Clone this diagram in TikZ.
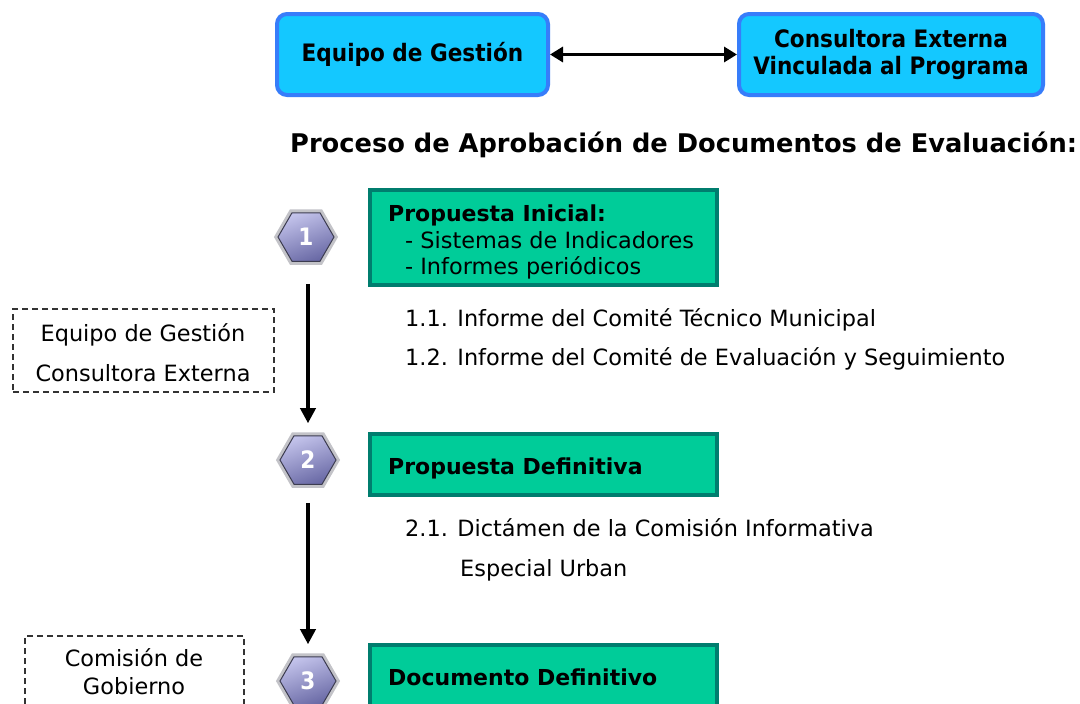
\documentclass[tikz,border=0pt]{standalone}
\usepackage{fontspec}
\setmainfont{DejaVu Sans}
\newfontfamily\condfont{DejaVu Sans Condensed}
\usetikzlibrary{shapes.geometric,arrows.meta}
\definecolor{cyanfill}{RGB}{20,200,255}
\definecolor{cyanborder}{RGB}{55,125,250}
\definecolor{greenfill}{RGB}{0,204,153}
\definecolor{greenborder}{RGB}{0,125,110}
\definecolor{hexlight}{RGB}{195,195,235}
\definecolor{hexdark}{RGB}{105,105,165}
\definecolor{hexrim}{RGB}{195,195,200}
\definecolor{hexline}{RGB}{60,60,80}
\tikzset{
  topbox/.style={draw=cyanborder, fill=cyanfill, line width=4pt, rounded corners=10pt,
    minimum height=81pt, align=center, inner sep=0pt,
    font=\condfont\bfseries\fontsize{24}{27}\selectfont},
  greenbox/.style={draw=greenborder, fill=greenfill, line width=4pt, minimum width=347pt, inner sep=0pt},
  hexnode/.style={regular polygon, regular polygon sides=6, minimum size=56pt, inner sep=0pt,
    preaction={draw=hexrim, line width=7pt},
    draw=hexline, line width=1pt, top color=hexlight, bottom color=hexdark, shading angle=20,
    text=white, font=\condfont\bfseries\fontsize{24}{24}\selectfont},
  dashbox/.style={draw=black!80, dash pattern=on 6pt off 4pt, line width=1.2pt, inner sep=0pt},
  plaintext/.style={font=\fontsize{22.4}{26}\selectfont, anchor=base west, inner sep=0pt},
  listtext/.style={font=\fontsize{22.4}{26}\selectfont, anchor=base west, inner sep=0pt},
  boldtext/.style={font=\bfseries\fontsize{22}{26}\selectfont, anchor=base west, inner sep=0pt},
  boxtext/.style={font=\fontsize{22.4}{26}\selectfont, anchor=base, inner sep=0pt},
  arr/.style={line width=3.5pt, -{Triangle[width=15pt,length=15pt]}},
  dblarr/.style={line width=3.5pt, {Triangle[width=15pt,length=13pt]}-{Triangle[width=15pt,length=13pt]}},
}
\begin{document}
\begin{tikzpicture}[x=1pt,y=-1pt]
\useasboundingbox (0,0) rectangle (1080,704);
\clip (0,0) rectangle (1080,704);
\fill[white] (0,0) rectangle (1080,704);

% top boxes
\node[topbox, minimum width=271pt] (eq) at (412.5,54.5) {Equipo de Gestión};
\node[topbox, minimum width=304pt] (cons) at (891,54.5) {Consultora Externa\\Vinculada al Programa};
\draw[dblarr] (eq.east) -- (cons.west);

% title
\node[font=\bfseries\fontsize{25.7}{30}\selectfont, anchor=base west, inner sep=0pt] (title) at (290,152)
  {Proceso de Aprobación de Documentos de Evaluación:};

% step 1
\node[hexnode] (h1) at (306,237) {1};
\node[greenbox, minimum height=95pt] (g1) at (543.5,237.5) {};
\node[boldtext] (g1a) at (388,221) {Propuesta Inicial:};
\node[listtext] (g1b) at (405,248) {- Sistemas de Indicadores};
\node[listtext] (g1c) at (405,274) {- Informes periódicos};
\node[plaintext] (t11) at (405,326) {1.1. Informe del Comité Técnico Municipal};
\node[plaintext] (t12) at (405,365) {1.2. Informe del Comité de Evaluación y Seguimiento};
\node[dashbox, minimum width=261pt, minimum height=83pt] (d1) at (143.5,350.5) {};
\node[boxtext] (d1a) at (143,341) {Equipo de Gestión};
\node[boxtext] (d1b) at (143,381) {Consultora Externa};

% step 2
\node[hexnode] (h2) at (308,460) {2};
\node[greenbox, minimum height=61pt] (g2) at (543.5,464.5) {};
\node[boldtext] (g2a) at (388,474) {Propuesta Definitiva};
\node[plaintext] (t21) at (405,536) {2.1. Dictámen de la Comisión Informativa};
\node[plaintext] (t22) at (460,576) {Especial Urban};

% step 3
\node[hexnode] (h3) at (308,681) {3};
\node[greenbox, minimum height=61pt] (g3) at (543.5,675.5) {};
\node[boldtext] (g3a) at (388,685) {Documento Definitivo};
\node[dashbox, minimum width=219pt, minimum height=80pt] (d2) at (134.5,676) {};
\node[boxtext] (d2a) at (134,666) {Comisión de};
\node[boxtext] (d2b) at (134,694) {Gobierno};

% arrows
\draw[arr] (h1.south) ++(2,22) -- ([yshift=12pt]h2.north);
\draw[arr] (h2.south) ++(0,18) -- ([yshift=12pt]h3.north);
\end{tikzpicture}
\end{document}
